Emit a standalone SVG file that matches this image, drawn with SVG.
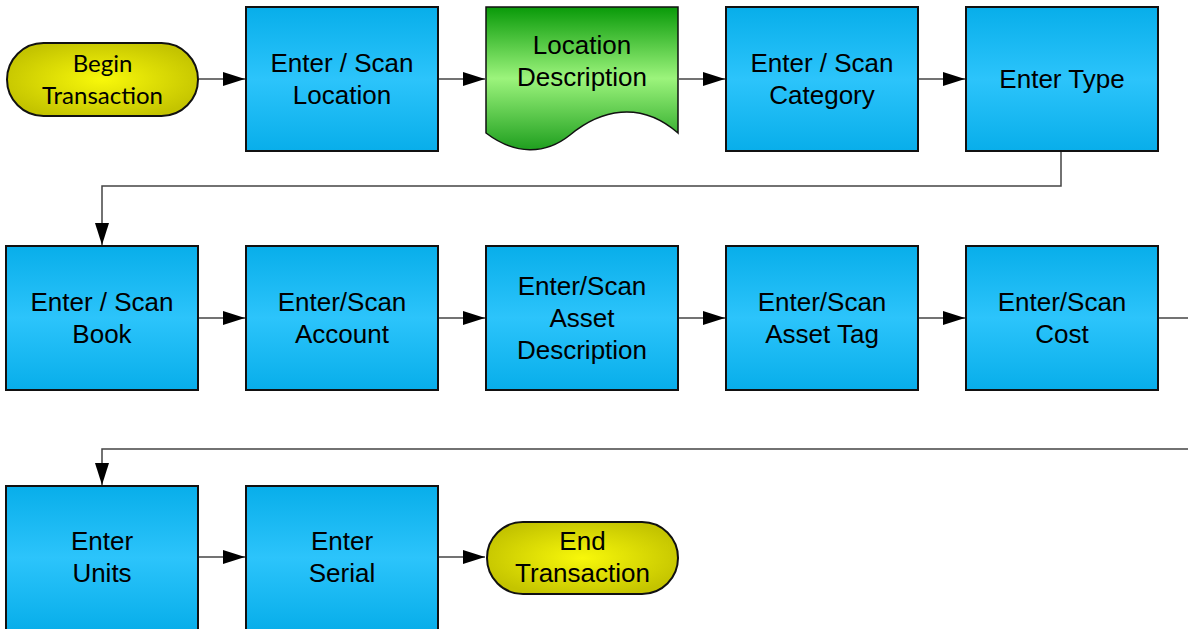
<svg xmlns="http://www.w3.org/2000/svg" width="1188" height="629" viewBox="0 0 1188 629">
  <defs>
    <linearGradient id="gBlue" x1="0" y1="0" x2="0" y2="1">
      <stop offset="0" stop-color="#08aeea"/>
      <stop offset="0.5" stop-color="#2cc4fb"/>
      <stop offset="1" stop-color="#08aeea"/>
    </linearGradient>
    <radialGradient id="gYellow" cx="0.5" cy="0.5" r="0.55">
      <stop offset="0" stop-color="#f8f80a"/>
      <stop offset="1" stop-color="#c4c400"/>
    </radialGradient>
    <linearGradient id="gGreen" x1="0" y1="0" x2="0" y2="1">
      <stop offset="0" stop-color="#099a09"/>
      <stop offset="0.5" stop-color="#9cf47c"/>
      <stop offset="1" stop-color="#1f9f1f"/>
    </linearGradient>
    <marker id="arrow" viewBox="0 0 22 14" refX="22" refY="7" markerWidth="22" markerHeight="14" markerUnits="userSpaceOnUse" orient="auto">
      <path d="M0,0 L22,7 L0,14 Z" fill="#000"/>
    </marker>
  </defs>
  <style>
    .box { fill: url(#gBlue); stroke: #111; stroke-width: 2; }
    .term { fill: url(#gYellow); stroke: #111; stroke-width: 2; }
    .doc { fill: url(#gGreen); stroke: #111; stroke-width: 1.5; }
    .lbl { font-family: "Liberation Sans", Arial, sans-serif; font-size: 26px; fill: #000; text-anchor: middle; }
    .tlbl { font-family: Lato, "Open Sans", sans-serif; font-size: 24px; fill: #000; text-anchor: middle; }
    .conn { fill: none; stroke: #444; stroke-width: 1.5; }
  </style>

  <g id="connectors">
    <line class="conn" x1="199" y1="79" x2="245" y2="79" marker-end="url(#arrow)"/>
    <line class="conn" x1="439" y1="79" x2="485" y2="79" marker-end="url(#arrow)"/>
    <line class="conn" x1="679" y1="79" x2="725" y2="79" marker-end="url(#arrow)"/>
    <line class="conn" x1="919" y1="79" x2="965" y2="79" marker-end="url(#arrow)"/>
    <polyline class="conn" points="1061,152 1061,186 102,186 102,245" marker-end="url(#arrow)"/>
    <line class="conn" x1="199" y1="318" x2="245" y2="318" marker-end="url(#arrow)"/>
    <line class="conn" x1="439" y1="318" x2="485" y2="318" marker-end="url(#arrow)"/>
    <line class="conn" x1="679" y1="318" x2="725" y2="318" marker-end="url(#arrow)"/>
    <line class="conn" x1="919" y1="318" x2="965" y2="318" marker-end="url(#arrow)"/>
    <line class="conn" x1="1159" y1="318" x2="1190" y2="318"/>
    <polyline class="conn" points="1190,449 102,449 102,485" marker-end="url(#arrow)"/>
    <line class="conn" x1="199" y1="557" x2="245" y2="557" marker-end="url(#arrow)"/>
    <line class="conn" x1="439" y1="557" x2="485" y2="557" marker-end="url(#arrow)"/>
  </g>

  <!-- Row 1 -->
  <g id="begin">
    <rect class="term" x="7" y="43" width="191" height="73" rx="36.5"/>
    <text class="tlbl" x="102.5" y="72">Begin</text>
    <text class="tlbl" x="102.5" y="104">Transaction</text>
  </g>
  <g id="scan-location">
    <rect class="box" x="246" y="7" width="192" height="144"/>
    <text class="lbl" x="342" y="72">Enter / Scan</text>
    <text class="lbl" x="342" y="104">Location</text>
  </g>
  <g id="location-description">
    <path class="doc" d="M486,7 H678 V133 C640,100 600,110 570,135 C545,155 515,155 486,133 Z"/>
    <text class="lbl" x="582" y="54">Location</text>
    <text class="lbl" x="582" y="86">Description</text>
  </g>
  <g id="scan-category">
    <rect class="box" x="726" y="7" width="192" height="144"/>
    <text class="lbl" x="822" y="72">Enter / Scan</text>
    <text class="lbl" x="822" y="104">Category</text>
  </g>
  <g id="enter-type">
    <rect class="box" x="966" y="7" width="192" height="144"/>
    <text class="lbl" x="1062" y="88">Enter Type</text>
  </g>

  <!-- Row 2 -->
  <g id="scan-book">
    <rect class="box" x="6" y="246" width="192" height="144"/>
    <text class="lbl" x="102" y="311">Enter / Scan</text>
    <text class="lbl" x="102" y="343">Book</text>
  </g>
  <g id="scan-account">
    <rect class="box" x="246" y="246" width="192" height="144"/>
    <text class="lbl" x="342" y="311">Enter/Scan</text>
    <text class="lbl" x="342" y="343">Account</text>
  </g>
  <g id="scan-asset-description">
    <rect class="box" x="486" y="246" width="192" height="144"/>
    <text class="lbl" x="582" y="295">Enter/Scan</text>
    <text class="lbl" x="582" y="327">Asset</text>
    <text class="lbl" x="582" y="359">Description</text>
  </g>
  <g id="scan-asset-tag">
    <rect class="box" x="726" y="246" width="192" height="144"/>
    <text class="lbl" x="822" y="311">Enter/Scan</text>
    <text class="lbl" x="822" y="343">Asset Tag</text>
  </g>
  <g id="scan-cost">
    <rect class="box" x="966" y="246" width="192" height="144"/>
    <text class="lbl" x="1062" y="311">Enter/Scan</text>
    <text class="lbl" x="1062" y="343">Cost</text>
  </g>

  <!-- Row 3 -->
  <g id="enter-units">
    <rect class="box" x="6" y="486" width="192" height="144"/>
    <text class="lbl" x="102" y="550">Enter</text>
    <text class="lbl" x="102" y="582">Units</text>
  </g>
  <g id="enter-serial">
    <rect class="box" x="246" y="486" width="192" height="144"/>
    <text class="lbl" x="342" y="550">Enter</text>
    <text class="lbl" x="342" y="582">Serial</text>
  </g>
  <g id="end">
    <rect class="term" x="487" y="522" width="191" height="72" rx="36"/>
    <text class="lbl" x="582.5" y="550">End</text>
    <text class="lbl" x="582.5" y="582">Transaction</text>
  </g>
</svg>
